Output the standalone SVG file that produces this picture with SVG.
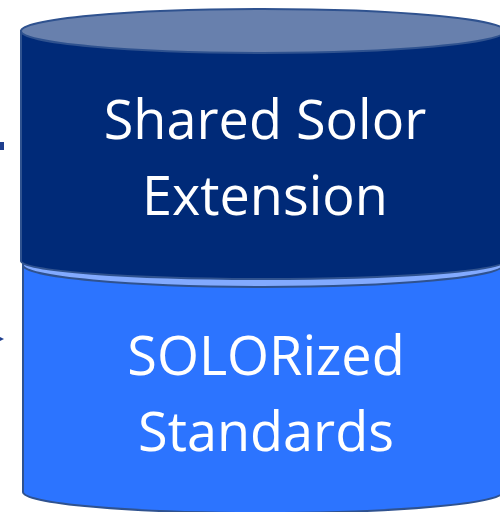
<svg xmlns="http://www.w3.org/2000/svg" width="500" height="512" viewBox="0 0 500 512">
<style>
.edge{stroke:#2f528f;stroke-width:2}
.lbl{font-family:"Open Sans","Liberation Sans",sans-serif;font-size:54px;fill:#ffffff;text-anchor:middle}
</style>
<rect width="500" height="512" fill="#ffffff"/>
<g id="connectors">
<rect x="0" y="142" width="4" height="8" fill="#1f3f8f"/>
<polygon points="0,337 4,339 0,341" fill="#1f3f8f"/>
</g>
<g id="solorized-standards">
<path class="edge" d="M23,265 L23,492 A240,21 0 0 0 503,492 L503,265 Z" fill="#2c74ff"/>
<ellipse class="edge" cx="263" cy="265" rx="240" ry="22" fill="#82aaff" stroke-width="1.5"/>
<text class="lbl" x="266" y="375">SOLORized</text>
<text class="lbl" x="266" y="451">Standards</text>
</g>
<g id="shared-solor-extension">
<path class="edge" d="M21,31 L21,261 A242,18 0 0 0 505,261 L505,31 Z" fill="#002a78" stroke-width="1.5"/>
<ellipse class="edge" cx="263" cy="31" rx="242" ry="22" fill="#6880ad"/>
<text class="lbl" x="265" y="139">Shared Solor</text>
<text class="lbl" x="265" y="215">Extension</text>
</g>
</svg>
